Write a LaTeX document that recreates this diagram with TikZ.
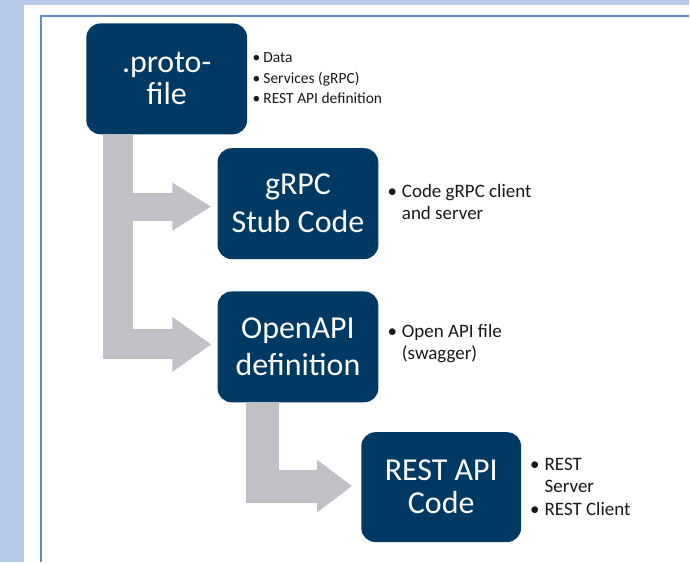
\documentclass[tikz,border=0pt]{standalone}
\usepackage{fontspec}
\setmainfont{Carlito}
\usetikzlibrary{arrows.meta,calc}

\definecolor{pagebg}{RGB}{183,201,232}
\definecolor{frameline}{RGB}{98,138,198}
\definecolor{navy}{RGB}{0,57,99}
\definecolor{flowgray}{RGB}{191,193,198}
\definecolor{notetext}{RGB}{25,25,25}

\tikzset{
  stage/.style={fill=navy, draw=none, rounded corners=14pt, text=white,
    align=center, font=\fontsize{32}{33}\selectfont,
    minimum width=161pt, minimum height=111pt, inner sep=0pt},
  flow/.style={draw=flowgray, line cap=butt, line join=miter,
    -{Triangle[length=#1]}},
  notes/.style={anchor=base west, inner sep=0pt, text=notetext, align=left}
}

\begin{document}
\begin{tikzpicture}[x=1pt, y=-1pt]
  % page background and framed white panel
  \fill[pagebg] (0,0) rectangle (690,563);
  \fill[white] (24,5) rectangle (690,563);
  \draw[frameline, line width=2.5pt] (690,16) -- (41,16) -- (41,563);
  \useasboundingbox (0,0) rectangle (690,563);

  % processing stages
  \node[stage] (proto) at (167,79) {.proto-\\[-1pt]file};
  \node[stage, font=\fontsize{32}{38}\selectfont] (grpc) at (298.5,204) {gRPC\\Stub Code};
  \node[stage, font=\fontsize{32}{37}\selectfont] (openapi) at (298.5,347.5) {OpenAPI\\definition};
  \node[stage, minimum width=160pt, minimum height=110pt] (rest) at (442,488) {REST API\\Code};

  % wide gray flow arrows
  \coordinate (trunk) at ($(proto.south west)+(32,0)$);
  \coordinate (grpctip) at ($(grpc.west)+(-6,3)$);
  \coordinate (opentip) at ($(openapi.west)+(-6,-2.5)$);
  \draw[flow=39pt, line width=30pt, -{Triangle[length=39pt,width=52pt]}]
    (trunk) -- (trunk |- opentip) -- (opentip);
  \draw[flow=39pt, line width=28pt, -{Triangle[length=39pt,width=45pt]}]
    (trunk |- grpctip) -- (grpctip);
  \coordinate (drop) at ($(openapi.south west)+(45,0)$);
  \coordinate (resttip) at ($(rest.west)+(-9,-1)$);
  \draw[flow=35pt, line width=33pt, -{Triangle[length=35pt,width=50pt]}]
    (drop) -- (drop |- resttip) -- (resttip);

  % bullet notes beside each stage
  \node[notes, font=\fontsize{15.5}{20.5}\selectfont] (protonotes) at (253,63)
    {\begin{tabular}[t]{@{}l@{\hspace{3pt}}l@{}}
      \textbullet & Data\\
      \textbullet & Services (gRPC)\\
      \textbullet & REST API definition
     \end{tabular}};
  \node[notes, font=\fontsize{19}{22}\selectfont] (grpcnotes) at (388,198)
    {\begin{tabular}[t]{@{}l@{\hspace{5pt}}l@{}}
      \textbullet & Code gRPC client\\
                  & and server
     \end{tabular}};
  \node[notes, font=\fontsize{19}{22}\selectfont] (opennotes) at (388,338)
    {\begin{tabular}[t]{@{}l@{\hspace{5pt}}l@{}}
      \textbullet & Open API file\\
                  & (swagger)
     \end{tabular}};
  \node[notes, font=\fontsize{19}{22.5}\selectfont] (restnotes) at (531,471)
    {\begin{tabular}[t]{@{}l@{\hspace{5pt}}l@{}}
      \textbullet & REST\\
                  & Server\\
      \textbullet & REST Client
     \end{tabular}};
\end{tikzpicture}
\end{document}
